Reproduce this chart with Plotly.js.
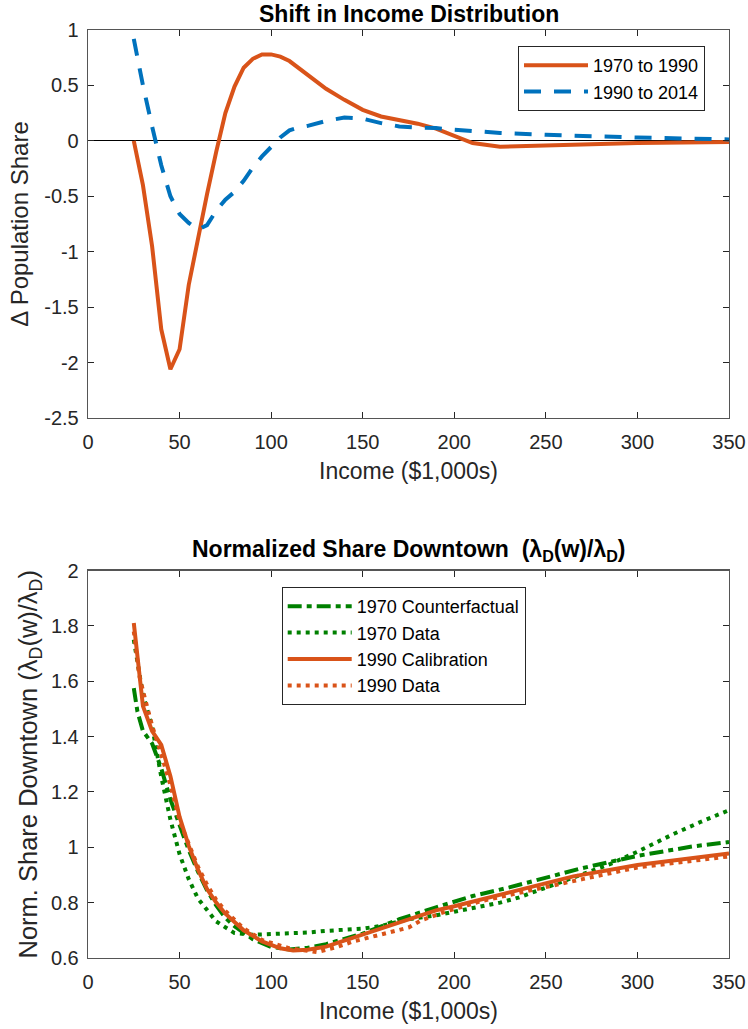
<!DOCTYPE html>
<html><head><meta charset="utf-8">
<script src="https://cdn.plot.ly/plotly-3.0.1.min.js"></script>
<style>html,body{margin:0;padding:0;background:#fff}#chart{width:748px;height:1029px}</style>
</head><body><div id="chart"></div>
<script>
// ---- Top panel: Shift in Income Distribution ----
const incomeA = [25,30,35,40,45,50,55,60,65,70,75,80,85,90,95,100,105,110,115,120,125,130,140,150,160,170,180,190,200,210,225,250,275,300,325,350];
const shift7090 = [0,-0.4,-0.95,-1.7,-2.06,-1.88,-1.3,-0.88,-0.48,-0.1,0.25,0.49,0.66,0.74,0.78,0.78,0.76,0.72,0.66,0.6,0.53,0.47,0.37,0.28,0.22,0.19,0.155,0.11,0.045,-0.02,-0.054,-0.04,-0.03,-0.02,-0.015,-0.01];
const incomeB = [25,30,35,40,45,50,55,60,65,70,75,80,85,90,95,100,105,110,115,120,130,140,150,160,170,180,190,200,225,250,275,300,325,350];
const shift9014 = [0.92,0.5,0.13,-0.22,-0.5,-0.66,-0.74,-0.8,-0.76,-0.63,-0.53,-0.46,-0.36,-0.24,-0.14,-0.05,0.03,0.095,0.12,0.135,0.18,0.21,0.2,0.16,0.13,0.12,0.115,0.1,0.072,0.055,0.04,0.03,0.022,0.013];

// ---- Bottom panel: Normalized Share Downtown ----
const incCF70 = [25,27,30,35,40,45,50,55,60,65,70,75,80,90,100,110,120,130,150,170,190,210,230,250,270,300,330,350];
const cf70 = [1.575,1.49,1.42,1.375,1.285,1.173,1.08,0.99,0.913,0.845,0.79,0.745,0.715,0.668,0.64,0.631,0.637,0.65,0.688,0.74,0.783,0.824,0.855,0.89,0.925,0.969,1.003,1.019];
const incD70 = [25,30,35,40,45,50,55,60,70,80,90,100,110,120,130,150,160,175,190,205,225,235,260,285,300,320,335,350];
const data70 = [1.75,1.55,1.437,1.255,1.1,0.975,0.885,0.815,0.732,0.69,0.684,0.686,0.689,0.692,0.698,0.706,0.716,0.74,0.754,0.775,0.8,0.818,0.878,0.939,0.984,1.049,1.093,1.134];
const incCal90 = [25,30,35,40,45,50,55,60,65,70,75,85,95,105,112,120,130,150,170,190,200,215,235,265,300,325,350];
const cal90 = [1.81,1.51,1.42,1.37,1.257,1.11,1.005,0.92,0.849,0.8,0.76,0.7,0.66,0.635,0.627,0.63,0.641,0.685,0.728,0.772,0.787,0.812,0.845,0.895,0.936,0.958,0.978];
const incD90 = [25,28,31,35,40,45,50,55,60,65,70,75,85,95,110,125,135,145,160,175,182,195,215,235,270,300,350];
const data90 = [1.78,1.62,1.54,1.44,1.335,1.225,1.095,1.01,0.93,0.865,0.81,0.77,0.707,0.665,0.635,0.621,0.638,0.66,0.684,0.71,0.736,0.767,0.806,0.836,0.885,0.927,0.967];

// ---- Ticks ----
const xTicks = [0,50,100,150,200,250,300,350];
const yTopTicks = [1,0.5,0,-0.5,-1,-1.5,-2,-2.5];
const yTopLabels = ['1','0.5','0','-0.5','-1','-1.5','-2','-2.5'];
const yBotTicks = [0.6,0.8,1,1.2,1.4,1.6,1.8,2];
const yBotLabels = ['0.6','0.8','1','1.2','1.4','1.6','1.8','2'];

const ORANGE = '#D95319', BLUE = '#0072BD', GREEN = '#008000';
const FONT = 'Liberation Sans, Arial, Helvetica, sans-serif';

const traces = [
  {x: incomeA, y: shift7090, name: '1970 to 1990', mode: 'lines', xaxis: 'x', yaxis: 'y', legend: 'legend',
   line: {color: ORANGE, width: 4}},
  {x: incomeB, y: shift9014, name: '1990 to 2014', mode: 'lines', xaxis: 'x', yaxis: 'y', legend: 'legend',
   line: {color: BLUE, width: 4, dash: '17px,13px'}},
  {x: incCF70, y: cf70, name: '1970 Counterfactual', mode: 'lines', xaxis: 'x2', yaxis: 'y2', legend: 'legend2',
   line: {color: GREEN, width: 4, dash: '14px,5px,5px,5px'}},
  {x: incD70, y: data70, name: '1970 Data', mode: 'lines', xaxis: 'x2', yaxis: 'y2', legend: 'legend2',
   line: {color: GREEN, width: 4, dash: '4px,5px'}},
  {x: incCal90, y: cal90, name: '1990 Calibration', mode: 'lines', xaxis: 'x2', yaxis: 'y2', legend: 'legend2',
   line: {color: ORANGE, width: 4}},
  {x: incD90, y: data90, name: '1990 Data', mode: 'lines', xaxis: 'x2', yaxis: 'y2', legend: 'legend2',
   line: {color: ORANGE, width: 4, dash: '4px,5px'}}
];

const axisCommon = {
  showline: true, linecolor: '#555', linewidth: 1.3, mirror: 'ticks',
  ticks: 'inside', ticklen: 6, tickwidth: 1, tickcolor: '#262626',
  showgrid: false, zeroline: false,
  tickfont: {family: FONT, size: 20, color: '#262626'}
};
const H = 1029, T = 30, B = 71, PH = H - T - B;
const py = p => (H - B - p) / PH;

const layout = {
  width: 748, height: 1029,
  margin: {l: 88, r: 19, t: T, b: B},
  paper_bgcolor: '#fff', plot_bgcolor: '#fff',
  showlegend: true,
  font: {family: FONT, color: '#262626'},
  xaxis: Object.assign({}, axisCommon, {range: [0, 350], tickvals: xTicks, anchor: 'y', ticklabelstandoff: 6,
    title: {text: 'Income ($1,000s)', font: {family: FONT, size: 23, color: '#262626'}, standoff: 10}}),
  yaxis: Object.assign({}, axisCommon, {range: [-2.5, 1], domain: [py(418), 1], anchor: 'x',
    tickvals: yTopTicks, ticktext: yTopLabels, ticklabelstandoff: 4,
    zeroline: true, zerolinecolor: '#000', zerolinewidth: 1,
    title: {text: '&#916; Population Share', font: {family: FONT, size: 24, color: '#262626'}, standoff: 8}}),
  xaxis2: Object.assign({}, axisCommon, {range: [0, 350], tickvals: xTicks, anchor: 'y2', ticklabelstandoff: 6,
    title: {text: 'Income ($1,000s)', font: {family: FONT, size: 23, color: '#262626'}, standoff: 10}}),
  yaxis2: Object.assign({}, axisCommon, {range: [0.6, 2], domain: [0, py(570.5)], anchor: 'x2',
    tickvals: yBotTicks, ticktext: yBotLabels, ticklabelstandoff: 4,
    title: {text: 'Norm. Share Downtown (&#955;<sub>D</sub>(w)/&#955;<sub>D</sub>)', font: {family: FONT, size: 25.5, color: '#262626'}, standoff: 6}}),
  legend: {x: (518 - 88) / 641, y: py(46), xanchor: 'left', yanchor: 'top', xref: 'paper', yref: 'paper',
    bgcolor: '#fff', bordercolor: '#262626', borderwidth: 1, itemwidth: 64,
    font: {family: FONT, size: 18, color: '#000'}, tracegroupgap: 0},
  legend2: {x: (281.7 - 88) / 641, y: py(587), xanchor: 'left', yanchor: 'top', xref: 'paper', yref: 'paper',
    bgcolor: '#fff', bordercolor: '#262626', borderwidth: 1, itemwidth: 64,
    font: {family: FONT, size: 18, color: '#000'}, tracegroupgap: 0},
  annotations: [
    {text: '<b>Shift in Income Distribution</b>', x: 0.5, y: py(14), xref: 'paper', yref: 'paper',
     xanchor: 'center', yanchor: 'middle', showarrow: false, font: {family: FONT, size: 23, color: '#000'}},
    {text: '<b>Normalized Share Downtown&nbsp; (&#955;<sub>D</sub>(w)/&#955;<sub>D</sub>)</b>', x: 0.5, y: py(550), xref: 'paper', yref: 'paper',
     xanchor: 'center', yanchor: 'middle', showarrow: false, font: {family: FONT, size: 23, color: '#000'}}
  ]
};

Plotly.newPlot('chart', traces, layout, {displayModeBar: false, staticPlot: true});
</script>
</body></html>
